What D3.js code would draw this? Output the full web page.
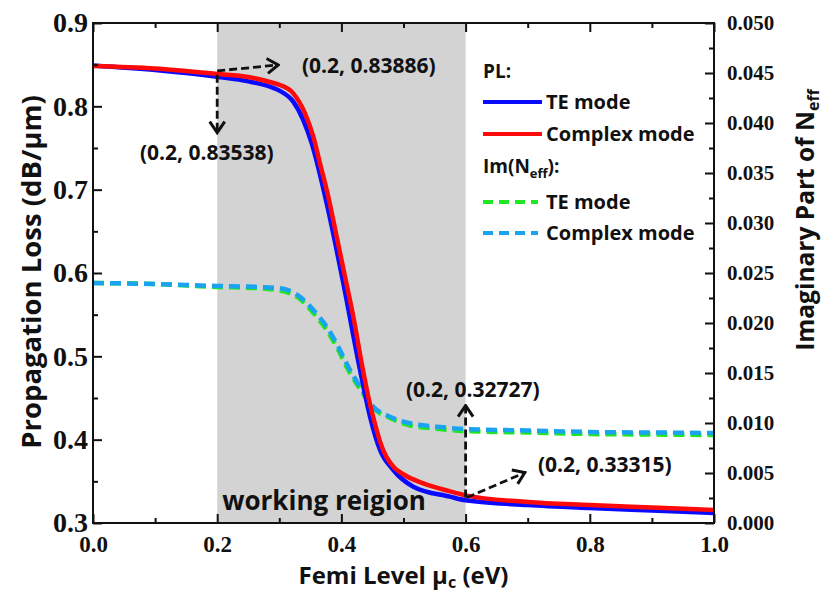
<!DOCTYPE html>
<html>
<head>
<meta charset="utf-8">
<script src="https://cdn.jsdelivr.net/npm/d3@7"></script>
<style>
	body { margin: 0; background: #fff; }
	svg { display: block; }
</style>
</head>
<body>
<div id="chart"></div>
<script>
// PL (dB/um)
const muPlTE = [0, 0.1, 0.2, 0.25, 0.285, 0.3011, 0.3225, 0.3386, 0.3522, 0.3763, 0.4031, 0.43, 0.4461, 0.4622, 0.4836, 0.5158, 0.5749, 0.6, 0.7, 0.8, 0.9, 1.0];
const plTE = [0.849, 0.8435, 0.8354, 0.830, 0.8235, 0.8185, 0.8056, 0.7836, 0.7556, 0.6836, 0.5876, 0.4836, 0.4276, 0.3876, 0.3636, 0.3436, 0.3316, 0.3273, 0.3216, 0.318, 0.315, 0.312];

const muPlCx = [0, 0.1, 0.2, 0.25, 0.285, 0.3011, 0.3225, 0.3414, 0.3548, 0.3655, 0.3789, 0.3924, 0.4058, 0.4192, 0.4327, 0.4433, 0.4568, 0.4622, 0.4836, 0.4997, 0.5319, 0.5749, 0.6, 0.7, 0.8, 0.9, 1.0];
const plCx = [0.8484, 0.8454, 0.8389, 0.8352, 0.8292, 0.8256, 0.8156, 0.7916, 0.7636, 0.7316, 0.6916, 0.6436, 0.5956, 0.5476, 0.4916, 0.4516, 0.4116, 0.3976, 0.3676, 0.3585, 0.3476, 0.338, 0.3332, 0.3252, 0.3216, 0.3186, 0.3156];

// Im(Neff)
const muIm = [0, 0.1, 0.2, 0.26, 0.3011, 0.3333, 0.3548, 0.3763, 0.395, 0.4111, 0.43, 0.4514, 0.4783, 0.5105, 0.5535, 0.6, 0.7, 0.8, 0.9, 1.0];
const imTE = [0.0240, 0.0239, 0.0236, 0.0235, 0.02325, 0.0224, 0.0210, 0.0193, 0.0173, 0.0153, 0.0134, 0.0115, 0.0105, 0.00975, 0.00943, 0.0092, 0.00905, 0.0089, 0.00885, 0.0088];
const imCx = [0.0240, 0.0239, 0.0237, 0.02362, 0.02347, 0.02263, 0.0213, 0.01963, 0.01763, 0.01563, 0.01363, 0.01163, 0.01063, 0.00997, 0.00963, 0.0094, 0.00925, 0.0091, 0.00905, 0.0090];

const xTicks = [0, 0.2, 0.4, 0.6, 0.8, 1.0];
const yLeftTicks = [0.3, 0.4, 0.5, 0.6, 0.7, 0.8, 0.9];
const yRightTicks = d3.range(0, 0.0501, 0.005);
const workRange = [0.2, 0.6];

// annotations: data point, arrow end offset, label
const notes = [
	{ mu: 0.2, v: 0.8425, dx: 61, dy: -6, label: "(0.2, 0.83886)", lx: 302, ly: 73 },
	{ mu: 0.2, v: 0.838, dx: 0, dy: 58, label: "(0.2, 0.83538)", lx: 140, ly: 160 },
	{ mu: 0.6, v: 0.3305, dx: 0, dy: -92, label: "(0.2, 0.32727)", lx: 406, ly: 397 },
	{ mu: 0.602, v: 0.3305, dx: 58, dy: -25, label: "(0.2, 0.33315)", lx: 538, ly: 472 },
];

const W = 827, H = 594;
const pLeft = 93, pRight = 714, pTop = 23, pBottom = 523;
const sans = "'Open Sans', Lato, sans-serif";
const serif = "'Liberation Serif', 'Times New Roman', serif";
const ink = "#111";

const svg = d3.select("#chart").append("svg")
	.attr("width", W)
	.attr("height", H)
	.attr("viewBox", `0 0 ${W} ${H}`);

const x = d3.scaleLinear().domain([0, 1]).range([pLeft, pRight]);
const yL = d3.scaleLinear().domain([0.3, 0.9]).range([pBottom, pTop]);
const yR = d3.scaleLinear().domain([0, 0.05]).range([pBottom, pTop]);

function label(sel, size) {
	return sel.attr("font-family", sans)
		.attr("font-weight", 700)
		.attr("font-size", size)
		.attr("fill", ink);
}

// shaded working region
svg.append("rect")
	.attr("x", x(workRange[0]))
	.attr("y", pTop)
	.attr("width", x(workRange[1]) - x(workRange[0]))
	.attr("height", pBottom - pTop)
	.attr("fill", "#d3d3d3");

label(svg.append("text"), 26)
	.attr("x", x(workRange[0]) + 5)
	.attr("y", 510)
	.text("working reigion");

// curves
const lineL = d3.line().x((d) => x(d[0])).y((d) => yL(d[1])).curve(d3.curveMonotoneX);
const lineR = d3.line().x((d) => x(d[0])).y((d) => yR(d[1])).curve(d3.curveMonotoneX);

const series = [
	{ xs: muIm, ys: imTE, gen: lineR, color: "#22e622", dash: "11,6" },
	{ xs: muIm, ys: imCx, gen: lineR, color: "#1aa3f0", dash: "11,6" },
	{ xs: muPlTE, ys: plTE, gen: lineL, color: "#0a0aff", dash: null },
	{ xs: muPlCx, ys: plCx, gen: lineL, color: "#ff0a0a", dash: null },
];

series.forEach((s) => {
	const pts = s.xs.map((m, j) => [m, s.ys[j]]);
	svg.append("path")
		.attr("d", s.gen(pts))
		.attr("fill", "none")
		.attr("stroke", s.color)
		.attr("stroke-width", 4.5)
		.attr("stroke-dasharray", s.dash);
});

// arrows
svg.append("defs").append("marker")
	.attr("id", "head")
	.attr("viewBox", "-14 -10 16 20")
	.attr("refX", 0)
	.attr("refY", 0)
	.attr("markerWidth", 16)
	.attr("markerHeight", 20)
	.attr("markerUnits", "userSpaceOnUse")
	.attr("orient", "auto")
	.append("path")
	.attr("d", "M-11,-7.5L0,0L-11,7.5")
	.attr("fill", "none")
	.attr("stroke", ink)
	.attr("stroke-width", 3);

notes.forEach((n) => {
	const x0 = x(n.mu), y0 = yL(n.v);
	svg.append("line")
		.attr("x1", x0)
		.attr("y1", y0)
		.attr("x2", x0 + n.dx)
		.attr("y2", y0 + n.dy)
		.attr("stroke", ink)
		.attr("stroke-width", 2.8)
		.attr("stroke-dasharray", "8,4")
		.attr("marker-end", "url(#head)");
	label(svg.append("text"), 21)
		.attr("x", n.lx)
		.attr("y", n.ly)
		.text(n.label);
});

// legend
const lg = svg.append("g");
label(lg.append("text"), 19).attr("x", 483).attr("y", 78).text("PL:");
const imHead = label(lg.append("text"), 19).attr("x", 483).attr("y", 173);
imHead.append("tspan").text("Im(N");
imHead.append("tspan").attr("font-size", 13).attr("dy", 5).text("eff");
imHead.append("tspan").attr("dy", -5).text("):");

const legendRows = [
	{ y: 102, color: "#0a0aff", dash: null, label: "TE mode" },
	{ y: 134, color: "#ff0a0a", dash: null, label: "Complex mode" },
	{ y: 202, color: "#22e622", dash: "10,6", label: "TE mode" },
	{ y: 233, color: "#1aa3f0", dash: "10,6", label: "Complex mode" },
];
legendRows.forEach((r) => {
	lg.append("line")
		.attr("x1", 483)
		.attr("x2", r.dash ? 538 : 542)
		.attr("y1", r.y)
		.attr("y2", r.y)
		.attr("stroke", r.color)
		.attr("stroke-width", 4)
		.attr("stroke-dasharray", r.dash);
	label(lg.append("text"), 20)
		.attr("x", 546)
		.attr("y", r.y + 7)
		.text(r.label);
});

// axes (ticks point inward)
function styleAxis(g, size) {
	g.select(".domain").remove();
	g.selectAll(".tick line").attr("stroke", ink).attr("stroke-width", 2);
	g.selectAll(".tick text")
		.attr("font-family", serif)
		.attr("font-weight", 700)
		.attr("font-size", size)
		.attr("fill", ink);
}

const minorX = d3.range(0.1, 1, 0.2);
svg.append("g")
	.attr("transform", `translate(0,${pBottom})`)
	.call(d3.axisBottom(x).tickValues(xTicks).tickSizeInner(-9).tickSizeOuter(0).tickPadding(13).tickFormat(d3.format(".1f")))
	.call((g) => styleAxis(g, 23));
svg.append("g")
	.attr("transform", `translate(0,${pBottom})`)
	.call(d3.axisBottom(x).tickValues(minorX).tickSizeInner(-5).tickSizeOuter(0).tickFormat(""))
	.call((g) => styleAxis(g, 23));
svg.append("g")
	.attr("transform", `translate(0,${pTop})`)
	.call(d3.axisTop(x).tickValues(xTicks).tickSizeInner(-9).tickSizeOuter(0).tickFormat(""))
	.call((g) => styleAxis(g, 23));
svg.append("g")
	.attr("transform", `translate(0,${pTop})`)
	.call(d3.axisTop(x).tickValues(minorX).tickSizeInner(-5).tickSizeOuter(0).tickFormat(""))
	.call((g) => styleAxis(g, 23));

svg.append("g")
	.attr("transform", `translate(${pLeft},0)`)
	.call(d3.axisLeft(yL).tickValues(yLeftTicks).tickSizeInner(-9).tickSizeOuter(0).tickPadding(5).tickFormat(d3.format(".1f")))
	.call((g) => styleAxis(g, 28));
svg.append("g")
	.attr("transform", `translate(${pLeft},0)`)
	.call(d3.axisLeft(yL).tickValues(d3.range(0.35, 0.9, 0.1)).tickSizeInner(-5).tickSizeOuter(0).tickFormat(""))
	.call((g) => styleAxis(g, 28));

svg.append("g")
	.attr("transform", `translate(${pRight},0)`)
	.call(d3.axisRight(yR).tickValues(yRightTicks).tickSizeInner(-9).tickSizeOuter(0).tickPadding(13).tickFormat(d3.format(".3f")))
	.call((g) => styleAxis(g, 21));
svg.append("g")
	.attr("transform", `translate(${pRight},0)`)
	.call(d3.axisRight(yR).tickValues(d3.range(0.0025, 0.05, 0.005)).tickSizeInner(-5).tickSizeOuter(0).tickFormat(""))
	.call((g) => styleAxis(g, 21));

svg.append("rect")
	.attr("x", pLeft)
	.attr("y", pTop)
	.attr("width", pRight - pLeft)
	.attr("height", pBottom - pTop)
	.attr("fill", "none")
	.attr("stroke", ink)
	.attr("stroke-width", 2);

// axis titles
const xt = label(svg.append("text"), 24)
	.attr("x", (pLeft + pRight) / 2)
	.attr("y", 584)
	.attr("text-anchor", "middle");
xt.append("tspan").text("Femi Level \u03bc");
xt.append("tspan").attr("font-size", 16).attr("dy", 4).text("c");
xt.append("tspan").attr("dy", -4).text(" (eV)");

label(svg.append("text"), 27.5)
	.attr("transform", "translate(41,272) rotate(-90)")
	.attr("text-anchor", "middle")
	.text("Propagation Loss (dB/\u03bcm)");

const yt = label(svg.append("text"), 24.5)
	.attr("transform", "translate(814,220) rotate(-90)")
	.attr("text-anchor", "middle");
yt.append("tspan").text("Imaginary Part of N");
yt.append("tspan").attr("font-size", 16).attr("dy", 5).text("eff");
</script>
</body>
</html>
